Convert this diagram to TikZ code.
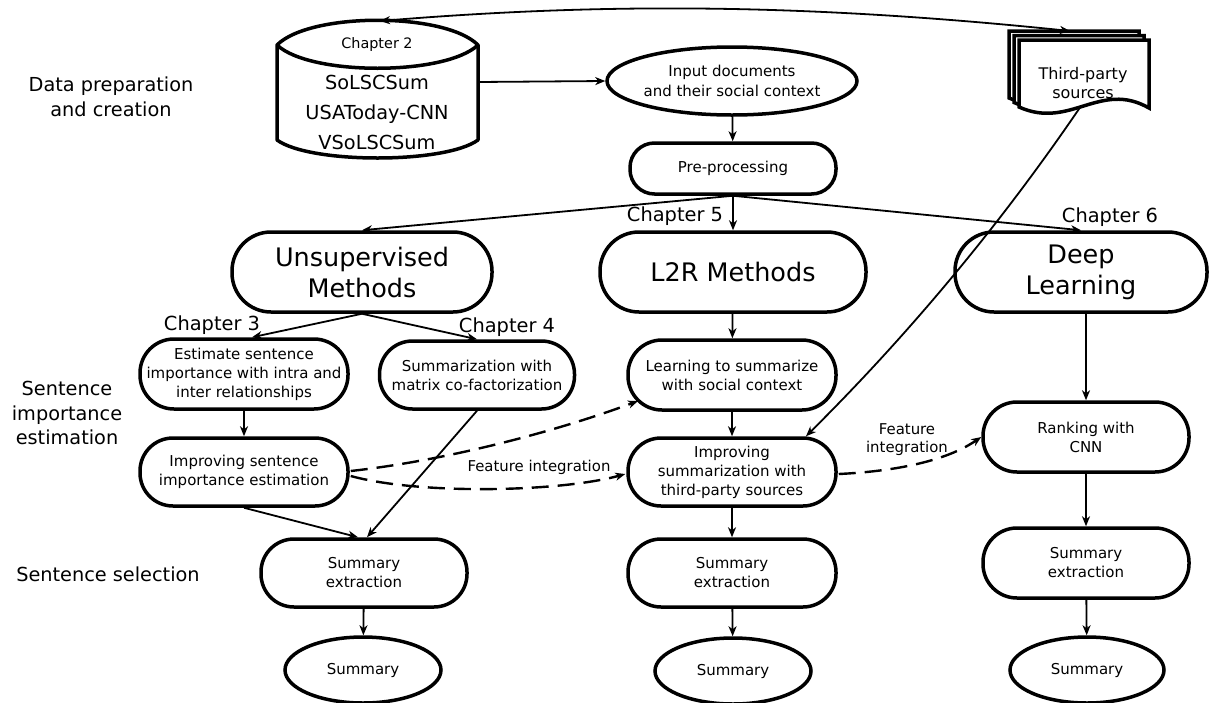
\documentclass[tikz,border=0pt]{standalone}
\usepackage{fontspec}
\setmainfont{DejaVu Sans}
\usetikzlibrary{arrows.meta,calc,shapes.geometric}
\newcommand\myfs[2]{\fontsize{#1}{#2}\selectfont}
\begin{document}
\begin{tikzpicture}[x=1pt,y=-1pt,
  box/.style={draw, line width=3.5pt, rectangle, align=center, font=\myfs{15}{19}, inner sep=0pt},
  ell/.style={draw, line width=3.5pt, ellipse, align=center, font=\myfs{15}{20}, inner sep=0pt},
  big/.style={font=\myfs{25.5}{31}},
  lab/.style={align=center, font=\myfs{19.3}{24.5}, inner sep=0pt},
  chap/.style={font=\myfs{19.4}{23}, inner sep=0pt},
  feat/.style={align=center, font=\myfs{14.9}{18}, inner sep=0pt},
  arr/.style={line width=1.8pt, -{Stealth[length=10pt,width=8pt,inset=3pt]}},
  dash arr/.style={line width=2.4pt, dash pattern=on 17pt off 9pt, -{Stealth[length=10pt,width=8pt,inset=3pt]}},
  sheet/.style={line width=3.5pt, fill=white, line join=miter}
]
\useasboundingbox (0,0) rectangle (1211,702);

% ---- data cylinder
\draw[line width=3.5pt, line join=round] (277,45) .. controls (310,12) and (445,12) .. (478,45)
   -- (478,140) .. controls (445,164) and (310,164) .. (277,140) -- cycle;
\draw[line width=3.5pt] (277,45) .. controls (310,76) and (445,76) .. (478,45);
\node[inner sep=0pt, font=\myfs{14.4}{17}] (ch2) at (377,45) {Chapter 2};
\node[inner sep=0pt, align=center, font=\myfs{19.3}{30}] (data) at (377,112) {SoLSCSum\\USAToday-CNN\\VSoLSCSum};
\coordinate (cylE) at (478,82);
\coordinate (cylT) at (380,21);

% ---- third-party sources (stack of documents)
\foreach \d in {10,5,0}{
  \draw[sheet] (1019-\d,40-0.9*\d) -- (1149-\d,40-0.9*\d) -- (1149-\d,108-0.9*\d)
     .. controls (1100-\d,80-0.9*\d) and (1070-\d,130-0.9*\d) .. (1019-\d,107-0.9*\d) -- cycle;
}
\node[inner sep=0pt, align=center, font=\myfs{16}{19}] (tp) at (1083,83.5) {Third-party\\sources};
\coordinate (tpS) at (1081,106);
\coordinate (tpT) at (1070,31);

% ---- left labels
\node[lab] (l1) at (111,97) {Data preparation\\and creation};
\node[lab] (l2) at (67,413) {Sentence\\importance\\estimation};
\node[lab] (l3) at (108,574) {Sentence selection};

% ---- top
\node[ell, minimum width=212pt, minimum height=68pt] (inp) at (732,81) {Input documents\\and their social context};
\node[box, minimum width=206pt, minimum height=51pt, rounded corners=24.5pt] (pre) at (733,168.5) {Pre-processing};

% ---- method boxes
\node[box, big, minimum width=260pt, minimum height=80pt, rounded corners=39pt] (unsup) at (362,272) {Unsupervised\\Methods};
\node[box, big, minimum width=266pt, minimum height=80pt, rounded corners=39pt] (l2r) at (733,272) {L2R Methods};
\node[box, big, minimum width=252pt, minimum height=80pt, rounded corners=39pt] (deep) at (1081,272) {Deep\\Learning};

\node[chap] (c3) at (212,325) {Chapter 3};
\node[chap] (c4) at (507,327) {Chapter 4};
\node[chap] (c5) at (675,216) {Chapter 5};
\node[chap] (c6) at (1110,217) {Chapter 6};

% ---- second level
\node[box, minimum width=208pt, minimum height=70pt, rounded corners=34pt] (est) at (244,374) {Estimate sentence\\importance with intra and\\inter relationships};
\node[box, minimum width=195pt, minimum height=68pt, rounded corners=33pt] (matr) at (477,375) {Summarization with\\matrix co-factorization};
\node[box, minimum width=208pt, minimum height=70pt, rounded corners=34pt] (learn) at (732,375) {Learning to summarize\\with social context};
\node[box, minimum width=206pt, minimum height=70pt, rounded corners=34pt] (rank) at (1086,437) {Ranking with\\CNN};

\node[box, minimum width=208pt, minimum height=68pt, rounded corners=33pt] (imps) at (244,472) {Improving sentence\\importance estimation};
\node[box, minimum width=208pt, minimum height=68pt, rounded corners=33pt] (impt) at (732,472) {Improving\\summarization with\\third-party sources};

\node[box, minimum width=206pt, minimum height=68pt, rounded corners=33pt] (sx1) at (364,573) {Summary\\extraction};
\node[box, minimum width=208pt, minimum height=68pt, rounded corners=33pt] (sx2) at (732,573) {Summary\\extraction};
\node[box, minimum width=206pt, minimum height=70pt, rounded corners=34pt] (sx3) at (1086,563) {Summary\\extraction};

\node[ell, minimum width=156pt, minimum height=66pt] (s1) at (363,670) {Summary};
\node[ell, minimum width=156pt, minimum height=66pt] (s2) at (733,671) {Summary};
\node[ell, minimum width=154pt, minimum height=66pt] (s3) at (1087,670) {Summary};

\node[feat] (f1) at (539,467) {Feature integration};
\node[feat] (f2) at (907,440) {Feature\\integration};

% ---- connectors
\draw[arr, {Stealth[length=10pt,width=8pt,inset=3pt]}-{Stealth[length=10pt,width=8pt,inset=3pt]}]
   (cylT) .. controls (600,3) and (800,3) .. (tpT);
\draw[arr] (cylE) -- (inp.west);
\draw[arr] (inp) -- (pre);
\draw[arr] (pre.south) -- (unsup.north);
\draw[arr] (pre.south) -- (l2r.north);
\draw[arr] (pre.south) -- (deep.north);
\draw[arr] (unsup.south) -- ($(est.north)+(8,0)$);
\draw[arr] (unsup.south) -- (matr.north);
\draw[arr] (est) -- (imps);
\draw[arr] (imps.south) -- ($(sx1.north)+(-6,0)$);
\draw[arr] (matr.south) -- ($(sx1.north)+(3,0)$);
\draw[arr] (sx1) -- (s1);
\draw[arr] (l2r) -- (learn);
\draw[arr] (learn) -- (impt);
\draw[arr] (impt) -- (sx2);
\draw[arr] (sx2) -- (s2);
\draw[arr] (rank.north |- deep.south) -- (rank.north);
\draw[arr] (rank) -- (sx3);
\draw[arr] (sx3) -- (s3);
\draw[arr] (tpS) .. controls (998,228) and (906,337) .. ($(impt.north)+(74,0)$);

\draw[dash arr] ($(imps.east)+(1,-1)$) .. controls (450,460) and (560,430) .. ($(learn.center)+(-94,26)$);
\draw[dash arr] ($(imps.east)+(1,4)$) .. controls (420,495) and (560,492) .. ($(impt.west)+(-1,2)$);
\draw[dash arr] ($(impt.east)+(1,2)$) .. controls (880,472) and (940,465) .. (rank.west);
\end{tikzpicture}
\end{document}
